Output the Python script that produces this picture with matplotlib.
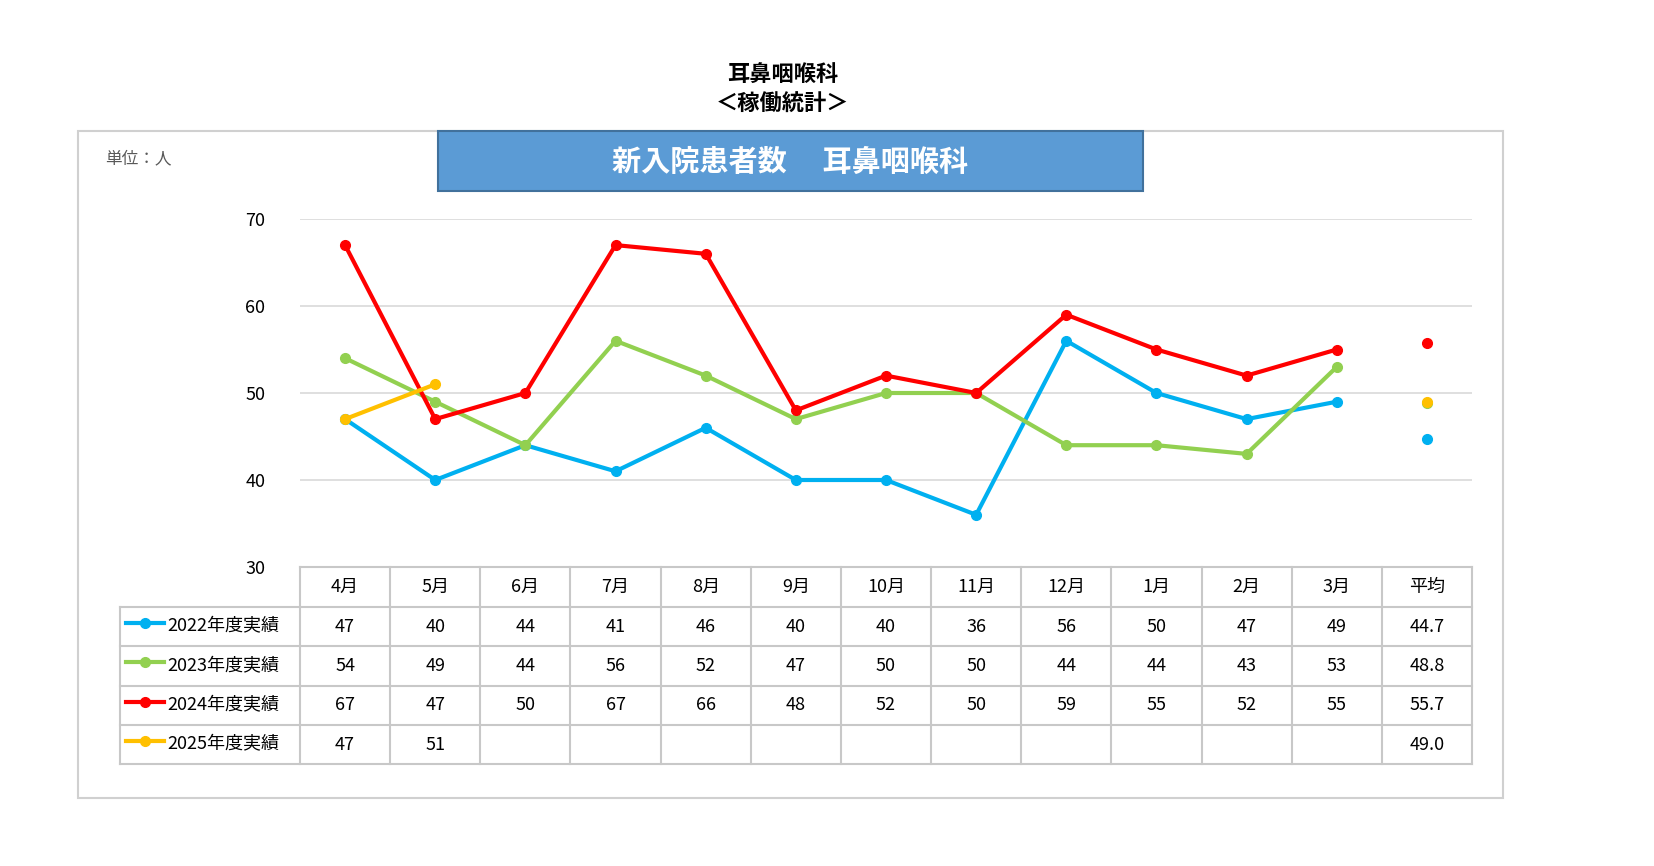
import matplotlib
matplotlib.use("Agg")
import matplotlib.pyplot as plt
from matplotlib.patches import Rectangle
from matplotlib.lines import Line2D

plt.rcParams['font.family'] = ['Noto Sans CJK JP']

months = ["4月","5月","6月","7月","8月","9月","10月","11月","12月","1月","2月","3月","平均"]
series_names = ["2022年度実績","2023年度実績","2024年度実績","2025年度実績"]
colors = ["#00B0F0", "#92D050", "#FF0000", "#FFC000"]
v2022 = [47,40,44,41,46,40,40,36,56,50,47,49]
v2023 = [54,49,44,56,52,47,50,50,44,44,43,53]
v2024 = [67,47,50,67,66,48,52,50,59,55,52,55]
v2025 = [47,51]
avgs = [44.7, 48.8, 55.7, 49.0]
values = [v2022, v2023, v2024, v2025]

W, H = 1654, 866
fig = plt.figure(figsize=(W/100, H/100), dpi=100)
def fx(x): return x/W
def fy(y): return 1 - y/H

fig.patches.append(Rectangle((fx(78), fy(798)), fx(1503)-fx(78), fy(131)-fy(798),
                             transform=fig.transFigure, fill=False, edgecolor="#D0D0D0", lw=1.5))
fig.text(fx(783), fy(74), "耳鼻咽喉科", ha='center', va='center', fontsize=16, fontweight='bold')
fig.text(fx(783), fy(104), "＜稼働統計＞", ha='center', va='center', fontsize=16, fontweight='bold')
fig.patches.append(Rectangle((fx(438), fy(191)), fx(1143)-fx(438), fy(131)-fy(191),
                             transform=fig.transFigure, facecolor="#5B9BD5", edgecolor="#41719C", lw=1.5))
fig.text(fx(790), fy(162), "新入院患者数　 耳鼻咽喉科", ha='center', va='center', fontsize=21,
         fontweight='bold', color='white')
fig.text(fx(105), fy(159), "単位：人", ha='left', va='center', fontsize=12, color="#595959")

L, R, T, B = 300, 1472, 219, 567
ax = fig.add_axes([fx(L), fy(B), fx(R)-fx(L), fy(T)-fy(B)])
ax.set_xlim(-0.5, 12.5)
ax.set_ylim(30, 70)
for s in ax.spines.values():
    s.set_visible(False)
ax.set_xticks([])
ax.set_yticks([30,40,50,60,70])
ax.set_yticklabels(["30","40","50","60","70"], fontsize=13)
ax.tick_params(axis='y', length=0, pad=25)
for g in [40,50,60,70]:
    ax.axhline(g, color="#D9D9D9", lw=1.2, zorder=0)
for vals, c, a in zip(values, colors, avgs):
    ax.plot(range(len(vals)), vals, color=c, lw=3, marker='o', ms=7, zorder=3)
    ax.plot([12], [a], 'o', color=c, ms=7, zorder=3)

gc = "#C8C8C8"
col_w = (R-L)/13
rows_y = [567, 607, 646, 686, 725, 764]
def hline(x0, x1, y):
    fig.add_artist(Line2D([fx(x0), fx(x1)], [fy(y), fy(y)], color=gc, lw=1.5, transform=fig.transFigure))
def vline(x, y0, y1):
    fig.add_artist(Line2D([fx(x), fx(x)], [fy(y0), fy(y1)], color=gc, lw=1.5, transform=fig.transFigure))
hline(L, R, rows_y[0])
for y in rows_y[1:]:
    hline(120, R, y)
vline(120, rows_y[1], rows_y[-1])
for i in range(14):
    vline(L + i*col_w, rows_y[0], rows_y[-1])
for i, m in enumerate(months):
    fig.text(fx(L + (i+0.5)*col_w), fy((rows_y[0]+rows_y[1])/2), m, ha='center', va='center', fontsize=13)
for r, (name, vals, c, a) in enumerate(zip(series_names, values, colors, avgs)):
    yc = (rows_y[r+1]+rows_y[r+2])/2
    fig.add_artist(Line2D([fx(126), fx(164)], [fy(yc-4), fy(yc-4)], color=c, lw=3,
                          transform=fig.transFigure))
    fig.add_artist(Line2D([fx(145)], [fy(yc-4)], color=c, marker='o', ms=7, transform=fig.transFigure))
    fig.text(fx(167), fy(yc), name, ha='left', va='center', fontsize=13)
    for i, v in enumerate(vals):
        fig.text(fx(L + (i+0.5)*col_w), fy(yc), str(v), ha='center', va='center', fontsize=13)
    fig.text(fx(L + 12.5*col_w), fy(yc), f"{a:.1f}", ha='center', va='center', fontsize=13)

fig.savefig("out.png", dpi=100)
